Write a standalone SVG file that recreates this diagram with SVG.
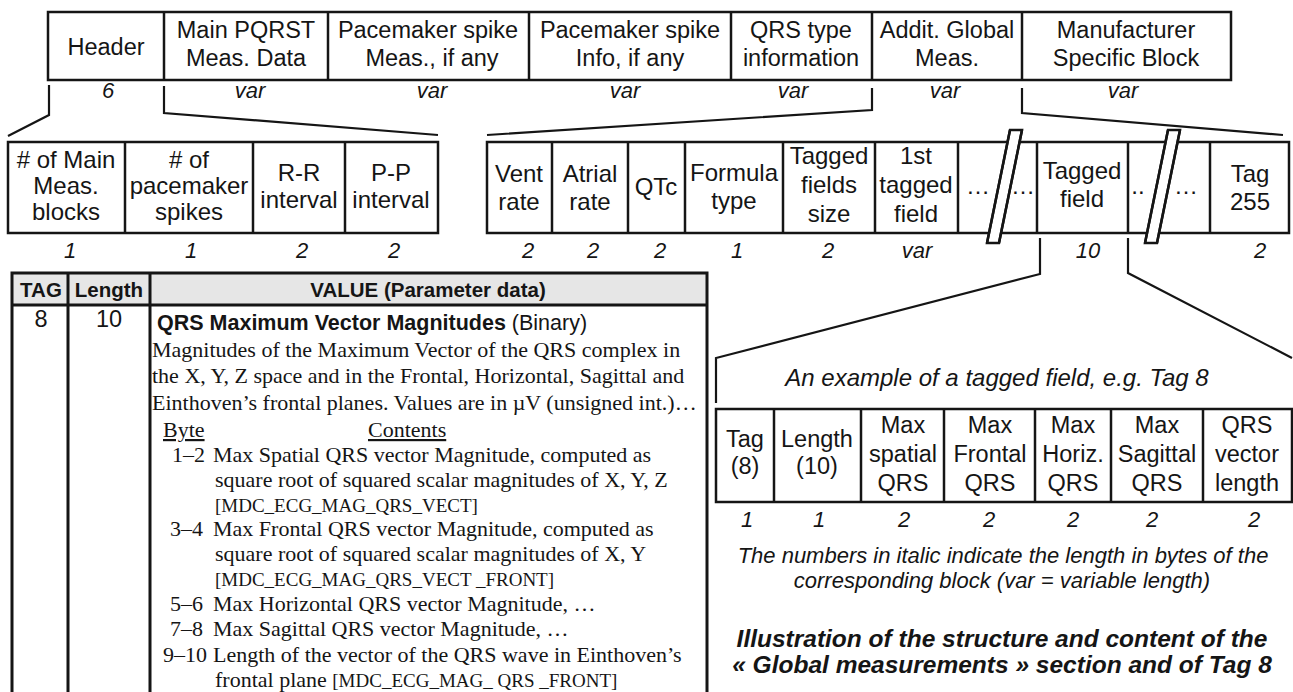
<svg xmlns="http://www.w3.org/2000/svg" width="1293" height="692" viewBox="0 0 1293 692">
<style>
.bx{fill:#fff;stroke:#151515;stroke-width:2.5}
.dv{stroke:#151515;stroke-width:2.5}
.tb{stroke:#151515;stroke-width:3;fill:none}
.ln{stroke:#151515;stroke-width:2.2;fill:none}
.brk{stroke:#151515;stroke-width:2.5;fill:#fff}
text{fill:#151515}
.s{font-family:"Liberation Sans",Arial,sans-serif;font-size:23.5px;text-anchor:middle}
.s2{font-family:"Liberation Sans",Arial,sans-serif;font-size:24px;text-anchor:middle}
.n{font-family:"Liberation Sans",Arial,sans-serif;font-size:22px;font-style:italic;text-anchor:middle}
.h{font-family:"Liberation Sans",Arial,sans-serif;font-size:20.5px;font-weight:bold;text-anchor:middle}
.sr{font-family:"Liberation Serif","Times New Roman",serif;font-size:22px}
.mdc{font-family:"Liberation Serif","Times New Roman",serif;font-size:19px}
.it{font-family:"Liberation Sans",Arial,sans-serif;font-size:22px;font-style:italic;text-anchor:middle}
.ti{font-family:"Liberation Sans",Arial,sans-serif;font-size:24.5px;font-style:italic;font-weight:bold;text-anchor:middle}
</style>

<g id="connectors">
<polyline class="ln" points="49,85 49,115 8,136"/>
<polyline class="ln" points="164,86 164,113 438,135"/>
<polyline class="ln" points="872,88 872,110 487,135"/>
<polyline class="ln" points="1022,88 1022,113 1283,135"/>
<polyline class="ln" points="1040,238 1040,274 716,358 716,403"/>
<polyline class="ln" points="1128,238 1128,273 1292,358"/>
</g>

<g id="section-blocks">
<rect class="bx" x="48" y="12" width="1183" height="68"/>
<line class="dv" x1="164" y1="12" x2="164" y2="80"/>
<line class="dv" x1="328" y1="12" x2="328" y2="80"/>
<line class="dv" x1="529" y1="12" x2="529" y2="80"/>
<line class="dv" x1="731" y1="12" x2="731" y2="80"/>
<line class="dv" x1="872" y1="12" x2="872" y2="80"/>
<line class="dv" x1="1022" y1="12" x2="1022" y2="80"/>
<text class="s" x="106" y="55">Header</text>
<text class="s"><tspan x="246" y="38">Main PQRST</tspan><tspan x="246" y="66">Meas. Data</tspan></text>
<text class="s"><tspan x="428" y="38">Pacemaker spike</tspan><tspan x="432" y="66">Meas., if any</tspan></text>
<text class="s"><tspan x="630" y="38">Pacemaker spike</tspan><tspan x="630" y="66">Info, if any</tspan></text>
<text class="s"><tspan x="801" y="38">QRS type</tspan><tspan x="801" y="66">information</tspan></text>
<text class="s"><tspan x="947" y="38">Addit. Global</tspan><tspan x="947" y="66">Meas.</tspan></text>
<text class="s"><tspan x="1126" y="38">Manufacturer</tspan><tspan x="1126" y="66">Specific Block</tspan></text>
<text class="n" x="108" y="98">6</text>
<text class="n" x="250" y="98">var</text>
<text class="n" x="432" y="98">var</text>
<text class="n" x="625" y="98">var</text>
<text class="n" x="793" y="98">var</text>
<text class="n" x="945" y="98">var</text>
<text class="n" x="1123" y="98">var</text>
</g>

<g id="main-meas-data">
<rect class="bx" x="8" y="142" width="430" height="91"/>
<line class="dv" x1="125" y1="142" x2="125" y2="233"/>
<line class="dv" x1="253" y1="142" x2="253" y2="233"/>
<line class="dv" x1="345" y1="142" x2="345" y2="233"/>
<text class="s2"><tspan x="66" y="168">#  of Main</tspan><tspan x="66" y="194">Meas.</tspan><tspan x="66" y="220">blocks</tspan></text>
<text class="s2"><tspan x="189" y="168">#  of</tspan><tspan x="189" y="194">pacemaker</tspan><tspan x="189" y="220">spikes</tspan></text>
<text class="s2"><tspan x="299" y="181">R-R</tspan><tspan x="299" y="208">interval</tspan></text>
<text class="s2"><tspan x="391" y="181">P-P</tspan><tspan x="391" y="208">interval</tspan></text>
<text class="n" x="70" y="258">1</text>
<text class="n" x="191" y="258">1</text>
<text class="n" x="302" y="258">2</text>
<text class="n" x="394" y="258">2</text>
</g>

<g id="global-meas-fields">
<rect class="bx" x="487" y="142" width="802" height="91"/>
<line class="dv" x1="552" y1="142" x2="552" y2="233"/>
<line class="dv" x1="628" y1="142" x2="628" y2="233"/>
<line class="dv" x1="685" y1="142" x2="685" y2="233"/>
<line class="dv" x1="783" y1="142" x2="783" y2="233"/>
<line class="dv" x1="875" y1="142" x2="875" y2="233"/>
<line class="dv" x1="958" y1="142" x2="958" y2="233"/>
<line class="dv" x1="1037" y1="142" x2="1037" y2="233"/>
<line class="dv" x1="1128" y1="142" x2="1128" y2="233"/>
<line class="dv" x1="1210" y1="142" x2="1210" y2="233"/>
<polygon class="brk" points="987,243 1010,130 1022,130 999,243" stroke="none"/>
<line class="dv" x1="987" y1="243" x2="1010" y2="130"/>
<line class="dv" x1="999" y1="243" x2="1022" y2="130"/>
<polygon class="brk" points="1145,243 1168,130 1180,130 1157,243" stroke="none"/>
<line class="dv" x1="1145" y1="243" x2="1168" y2="130"/>
<line class="dv" x1="1157" y1="243" x2="1180" y2="130"/>
<text class="s2"><tspan x="519" y="182">Vent</tspan><tspan x="519" y="210">rate</tspan></text>
<text class="s2"><tspan x="590" y="182">Atrial</tspan><tspan x="590" y="210">rate</tspan></text>
<text class="s2" x="656" y="195">QTc</text>
<text class="s2"><tspan x="734" y="181">Formula</tspan><tspan x="734" y="209">type</tspan></text>
<text class="s2"><tspan x="829" y="164">Tagged</tspan><tspan x="829" y="193">fields</tspan><tspan x="829" y="222">size</tspan></text>
<text class="s2"><tspan x="916" y="164">1st</tspan><tspan x="916" y="193">tagged</tspan><tspan x="916" y="222">field</tspan></text>
<text class="s2" x="978" y="194">…</text>
<text class="s2" x="1023" y="194">…</text>
<text class="s2"><tspan x="1082" y="179">Tagged</tspan><tspan x="1082" y="207">field</tspan></text>
<text class="s2" x="1138" y="194">..</text>
<text class="s2" x="1186" y="194">…</text>
<text class="s2"><tspan x="1250" y="182">Tag</tspan><tspan x="1250" y="210">255</tspan></text>
<text class="n" x="528" y="258">2</text>
<text class="n" x="593" y="258">2</text>
<text class="n" x="660" y="258">2</text>
<text class="n" x="737" y="258">1</text>
<text class="n" x="828" y="258">2</text>
<text class="n" x="917" y="258">var</text>
<text class="n" x="1088" y="258">10</text>
<text class="n" x="1260" y="258">2</text>
</g>

<g id="tag8-table">
<rect x="12" y="273" width="695" height="440" fill="#fff"/>
<rect x="12" y="273" width="695" height="32" fill="#e6e6e6"/>
<rect class="tb" x="12" y="273" width="695" height="440"/>
<line class="tb" x1="12" y1="305" x2="707" y2="305"/>
<line class="tb" x1="68" y1="273" x2="68" y2="700"/>
<line class="tb" x1="150" y1="273" x2="150" y2="700"/>
<text class="h" x="41" y="297" font-size="20">TAG</text>
<text class="h" x="109" y="297" font-size="20">Length</text>
<text class="h" x="428" y="297" font-size="21.5">VALUE (Parameter data)</text>
<text class="s" x="41" y="327" font-size="21.5">8</text>
<text class="s" x="109" y="327" font-size="21.5">10</text>
<text x="157" y="330" font-family="Liberation Sans, Arial, sans-serif" font-size="21.5"><tspan font-weight="bold">QRS Maximum Vector Magnitudes</tspan> (Binary)</text>
<text class="sr" x="152" y="357">Magnitudes of the Maximum Vector of the QRS complex in</text>
<text class="sr" x="152" y="383">the X, Y, Z space and in the Frontal, Horizontal, Sagittal and</text>
<text class="sr" x="152" y="410">Einthoven’s frontal planes. Values are in µV (unsigned int.)…</text>
<text class="sr" x="163" y="437" text-decoration="underline">Byte</text>
<text class="sr" x="368" y="437" text-decoration="underline">Contents</text>
<text class="sr" x="172" y="462">1–2</text>
<text class="sr" x="213" y="462">Max Spatial QRS vector Magnitude, computed as</text>
<text class="sr" x="215" y="487">square root of squared scalar magnitudes of X, Y, Z</text>
<text class="mdc" x="215" y="512">[MDC_ECG_MAG_QRS_VECT]</text>
<text class="sr" x="170" y="536">3–4</text>
<text class="sr" x="213" y="536">Max Frontal QRS vector Magnitude, computed as</text>
<text class="sr" x="215" y="561">square root of squared scalar magnitudes of X, Y</text>
<text class="mdc" x="215" y="586">[MDC_ECG_MAG_QRS_VECT _FRONT]</text>
<text class="sr" x="170" y="611">5–6</text>
<text class="sr" x="213" y="611">Max Horizontal QRS vector Magnitude, …</text>
<text class="sr" x="170" y="636">7–8</text>
<text class="sr" x="213" y="636">Max Sagittal QRS vector Magnitude, …</text>
<text class="sr" x="163" y="662">9–10</text>
<text class="sr" x="213" y="662">Length of the vector of the QRS wave in Einthoven’s</text>
<text class="sr" x="215" y="687">frontal plane <tspan class="mdc">[MDC_ECG_MAG_ QRS _FRONT]</tspan></text>
</g>

<g id="tag8-example">
<text class="s2" x="997" y="386" font-style="italic">An example of a tagged field, e.g. Tag 8</text>
<rect class="bx" x="716" y="409" width="576" height="93"/>
<line class="dv" x1="774" y1="409" x2="774" y2="502"/>
<line class="dv" x1="861" y1="409" x2="861" y2="502"/>
<line class="dv" x1="944" y1="409" x2="944" y2="502"/>
<line class="dv" x1="1035" y1="409" x2="1035" y2="502"/>
<line class="dv" x1="1111" y1="409" x2="1111" y2="502"/>
<line class="dv" x1="1203" y1="409" x2="1203" y2="502"/>
<text class="s"><tspan x="745" y="447">Tag</tspan><tspan x="745" y="474">(8)</tspan></text>
<text class="s"><tspan x="817" y="447">Length</tspan><tspan x="817" y="474">(10)</tspan></text>
<text class="s"><tspan x="903" y="433">Max</tspan><tspan x="903" y="462">spatial</tspan><tspan x="903" y="491">QRS</tspan></text>
<text class="s"><tspan x="990" y="433">Max</tspan><tspan x="990" y="462">Frontal</tspan><tspan x="990" y="491">QRS</tspan></text>
<text class="s"><tspan x="1073" y="433">Max</tspan><tspan x="1073" y="462">Horiz.</tspan><tspan x="1073" y="491">QRS</tspan></text>
<text class="s"><tspan x="1157" y="433">Max</tspan><tspan x="1157" y="462">Sagittal</tspan><tspan x="1157" y="491">QRS</tspan></text>
<text class="s"><tspan x="1247" y="433">QRS</tspan><tspan x="1247" y="462">vector</tspan><tspan x="1247" y="491">length</tspan></text>
<text class="n" x="747" y="527">1</text>
<text class="n" x="819" y="527">1</text>
<text class="n" x="904" y="527">2</text>
<text class="n" x="989" y="527">2</text>
<text class="n" x="1073" y="527">2</text>
<text class="n" x="1152" y="527">2</text>
<text class="n" x="1254" y="527">2</text>
</g>

<g id="notes">
<text class="it"><tspan x="1003" y="563">The numbers in italic indicate the length in bytes of the</tspan><tspan x="1002" y="588">corresponding  block (var = variable length)</tspan></text>
<text class="ti"><tspan x="1002" y="647">Illustration of the structure and content of the</tspan><tspan x="1002" y="673">« Global measurements » section and of Tag 8</tspan></text>
</g>
</svg>
